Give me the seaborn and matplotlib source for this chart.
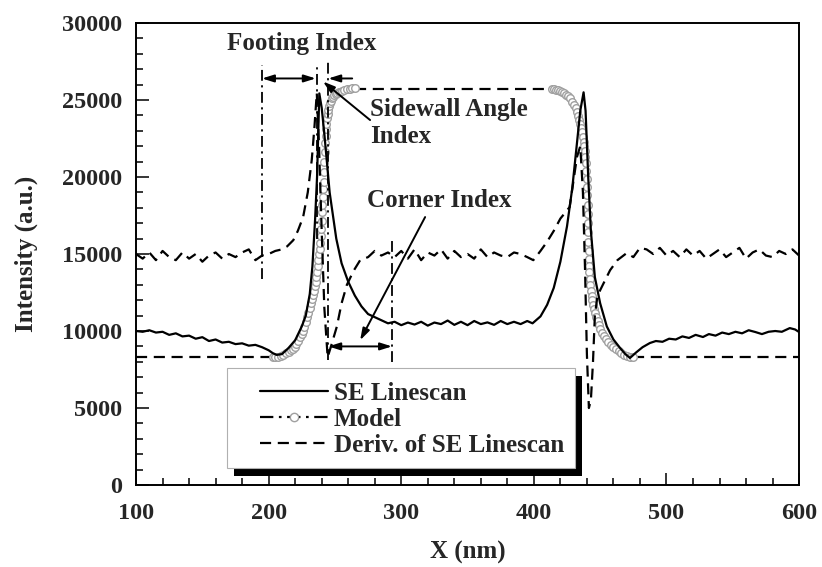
import matplotlib
matplotlib.use("Agg")
import matplotlib.pyplot as plt
from matplotlib.lines import Line2D
from matplotlib.patches import Rectangle
from matplotlib.ticker import MultipleLocator
import seaborn as sns

# SE linescan (solid)
se_x = [100, 105, 110, 115, 120, 125, 130, 135, 140, 145, 150, 155, 160, 165, 170, 175,
        180, 185, 190, 195, 200, 203, 206, 210, 215, 220, 225, 228, 231, 233, 235, 236.5,
        238.2, 240, 242, 243.8, 246, 248, 251, 255, 260, 265, 270, 275, 280, 285, 290, 295,
        300, 305, 310, 315, 320, 325, 330, 335, 340, 345, 350, 355, 360, 365, 370, 375,
        380, 385, 390, 395, 399, 405, 410, 415, 420, 425, 429, 432.5, 435, 437.5, 439,
        441, 443, 446, 450, 455, 460, 465, 469, 472.5, 477, 482, 487.5, 492, 497, 502,
        507, 512, 517, 522, 527.5, 532, 537, 542, 547, 552, 557, 562, 567, 572, 577,
        582, 587, 593, 597, 600]
se_y = [10000, 9950, 10050, 9900, 9950, 9750, 9850, 9650, 9700, 9500, 9600, 9350, 9450,
        9250, 9300, 9150, 9200, 9050, 9100, 8950, 8750, 8570, 8450, 8500, 8900, 9400,
        10300, 11000, 12400, 14200, 17200, 20000, 25430, 24500, 22800, 21100, 19000,
        17800, 16000, 14400, 13200, 12300, 11600, 11100, 10900, 10700, 10500, 10600,
        10380, 10550, 10420, 10600, 10350, 10550, 10450, 10680, 10400, 10600, 10380,
        10650, 10450, 10560, 10400, 10650, 10450, 10600, 10450, 10650, 10500, 10950,
        11700, 12800, 14500, 16800, 19300, 22200, 24300, 25500, 24300, 20000, 16500,
        13500, 11800, 10300, 9450, 8900, 8500, 8250, 8600, 8950, 9220, 9350, 9300, 9500,
        9450, 9650, 9550, 9750, 9610, 9800, 9700, 9900, 9800, 9950, 9850, 10050, 9935,
        9800, 9950, 10000, 9950, 10190, 10100, 9935]

# derivative of SE linescan (dashed)
dv_x = [100, 105, 110, 115, 120, 125, 130, 135, 140, 145, 150, 155, 160, 165, 170, 175,
        180, 185, 190, 195, 200, 205, 210, 214, 218.6, 222, 226, 229.5, 232.5, 234.5,
        236.3, 238, 240, 242, 244.5, 247, 251.4, 255, 259, 264, 269, 275, 280, 285, 290,
        295, 300, 305, 310, 315, 320, 325, 330, 335, 340, 345, 350, 355, 360, 365, 370,
        375, 380, 385, 390, 395, 399.6, 405, 410, 415, 420, 427, 432.5, 435, 437, 438.6,
        440, 441.5, 443, 444.6, 446, 448, 452, 457.5, 463, 470, 475, 480, 485, 490, 495,
        500, 505, 510, 515, 520, 525, 530, 535, 540, 545, 550, 555, 560, 565, 570, 575,
        580, 585, 590, 595, 600]
dv_y = [15000, 14700, 15100, 14600, 15200, 14800, 14600, 15100, 14700, 15000, 14500,
        14900, 15100, 14700, 15000, 14800, 15100, 15300, 14600, 14900, 15000, 15200,
        15300, 15500, 15900, 16500, 17400, 19000, 21100, 23200, 25450, 22000, 16500,
        11500, 8300, 9000, 10280, 11800, 13000, 13900, 14600, 14800, 15200, 14900, 15100,
        14800, 15200, 14700, 15300, 14600, 15100, 14900, 15300, 14700, 15200, 14800,
        15000, 14700, 15300, 14800, 15100, 14900, 14800, 15100, 15000, 14800, 14600,
        15200, 15800, 16500, 17300, 18050, 21300, 22000, 19000, 14000, 8500, 5000, 5500,
        8000, 11000, 12300, 13000, 13950, 14600, 15060, 14800, 15400, 15300, 15000, 15400,
        14900, 15200, 14800, 15300, 14900, 15200, 14700, 15000, 15300, 14800, 15100,
        15400, 14700, 15100, 15300, 14900, 14800, 15200, 15000, 15300, 14900]

# model: flat levels (dashed) and the two edge transitions (open circles)
md_bottom = 8300
md_top = 25720
md_flat_x = [(100, 203), (265, 414), (475, 600)]
md_flat_y = [md_bottom, md_top, md_bottom]
left_x = [203, 205, 207, 209, 211, 213, 215, 216.5, 218, 219.5, 221, 222.5, 224, 225,
          226, 227, 228, 229, 230, 231, 232, 233, 233.5, 234.3, 235, 235.5, 236, 236.5,
          237, 237.5, 238, 238.4, 238.8, 239.2, 239.5, 239.9, 240.2, 240.5, 240.8, 241.1,
          241.4, 241.7, 242, 242.3, 242.5, 242.9, 243.2, 243.6, 244, 244.4, 244.8, 245.4,
          246, 246.8, 247.5, 248.5, 249.5, 250.5, 251.5, 252.8, 254, 255.5, 257, 259, 261,
          263, 265]
left_y = [8300, 8310, 8330, 8380, 8450, 8540, 8650, 8750, 8850, 8990, 9150, 9360, 9600,
          9790, 10000, 10290, 10600, 10900, 11200, 11520, 11850, 12100, 12350, 12620,
          12900, 13200, 13500, 13850, 14200, 14600, 15000, 15350, 15700, 16150, 16600,
          17150, 17700, 18200, 18700, 19200, 19700, 20350, 21000, 21600, 22200, 22650,
          23100, 23450, 23800, 24100, 24350, 24600, 24800, 24950, 25100, 25200, 25300,
          25380, 25450, 25500, 25550, 25600, 25650, 25690, 25720, 25750, 25770]
right_x = [414, 415.5, 417, 418.5, 420, 421.5, 423, 424.5, 426, 427.5, 429, 430.3, 431.5,
           432.5, 433.5, 434.3, 435, 435.7, 436.3, 437, 437.5, 438, 438.5, 438.9, 439.2,
           439.5, 439.8, 440.1, 440.3, 440.5, 440.7, 440.9, 441, 441.2, 441.3, 441.5,
           441.6, 441.8, 442, 442.5, 443, 443.5, 444, 444.7, 445.5, 446.2, 447, 448, 449,
           450.2, 451.5, 453, 454.5, 456.2, 458, 460, 462, 464, 466, 468, 470, 472.5, 475]
right_y = [25720, 25700, 25680, 25640, 25600, 25530, 25450, 25350, 25250, 25100, 24900,
           24680, 24450, 24200, 23950, 23700, 23450, 23180, 22900, 22600, 22300, 22000,
           21700, 21300, 20900, 20400, 19900, 19350, 18800, 18200, 17600, 17000, 16400,
           15800, 15200, 14700, 14200, 13800, 13400, 13000, 12600, 12300, 12000, 11700,
           11400, 11150, 10900, 10650, 10400, 10150, 9900, 9670, 9450, 9270, 9100, 8950,
           8800, 8670, 8550, 8470, 8400, 8340, 8300]

# index guide lines and arrows
guide_x = [195, 236.3, 244.8, 293]
guide_top = [27300, 27400, 27500, 16000]
guide_bottom = [13400, 16000, 8100, 8000]

sns.set_style("ticks")
plt.rcParams["font.family"] = ["Liberation Serif", "DejaVu Serif"]
plt.rcParams["font.weight"] = "bold"
plt.rcParams["axes.labelweight"] = "bold"

fig = plt.figure(figsize=(8.22, 5.67), dpi=100)
ax = fig.add_axes([0.1655, 0.1446, 0.8066, 0.8148])

dash = (0, (5, 3))
dashdot = (0, (6, 2.5, 1.2, 2.5))

# model
for (a, b), lvl in zip(md_flat_x, md_flat_y):
    ax.plot([a, b], [lvl, lvl], color="black", lw=1.6, linestyle=dash, zorder=2)
sns.scatterplot(x=left_x + right_x, y=left_y + right_y, ax=ax, s=30,
                facecolor="white", edgecolor="#a0a0a0", linewidth=1.0,
                zorder=2.5, legend=False)

sns.lineplot(x=dv_x, y=dv_y, ax=ax, color="black", lw=1.6, linestyle=dash,
             sort=False, estimator=None, zorder=3)
sns.lineplot(x=se_x, y=se_y, ax=ax, color="black", lw=1.6,
             sort=False, estimator=None, zorder=3.5)

ax.vlines(guide_x, guide_bottom, guide_top, colors="black", lw=1.3,
          linestyles=[dashdot], zorder=3)

arrow = dict(arrowstyle="<|-|>,head_length=0.7,head_width=0.22", color="black",
             lw=1.4, shrinkA=0, shrinkB=0)
one_way = dict(arrowstyle="-|>,head_length=0.7,head_width=0.22", color="black",
               lw=1.4, shrinkA=0, shrinkB=0)
ax.annotate("", xy=(235.5, 26400), xytext=(195, 26400), arrowprops=arrow)
ax.annotate("", xy=(245, 26400), xytext=(263, 26400), arrowprops=one_way)
ax.annotate("", xy=(293, 9000), xytext=(245, 9000), arrowprops=arrow)
ax.annotate("", xy=(241, 26200), xytext=(276.5, 23700), arrowprops=one_way)
ax.annotate("", xy=(269, 9400), xytext=(318, 17400), arrowprops=one_way)

ax.text(225, 28650, "Footing Index", ha="center", va="center", fontsize=18,
        fontweight="bold")
ax.text(276.5, 23500, "Sidewall Angle\nIndex", ha="left", va="center", fontsize=18,
        fontweight="bold", linespacing=1.2)
ax.text(328.5, 18500, "Corner Index", ha="center", va="center", fontsize=18,
        fontweight="bold")

ax.set_xlim(100, 600)
ax.set_ylim(0, 30000)
ax.xaxis.set_major_locator(MultipleLocator(100))
ax.xaxis.set_minor_locator(MultipleLocator(20))
ax.yaxis.set_major_locator(MultipleLocator(5000))
ax.yaxis.set_minor_locator(MultipleLocator(1000))
ax.tick_params(which="both", direction="in", top=False, right=False, width=1.3,
               labelsize=17.5)
ax.tick_params(which="major", length=9)
ax.tick_params(which="minor", length=5)
ax.tick_params(axis="x", pad=13)
ax.tick_params(axis="y", pad=10)
for sp in ax.spines.values():
    sp.set_linewidth(1.4)
    sp.set_color("black")

ax.set_xlabel("X (nm)", fontsize=18, labelpad=12)
ax.set_ylabel("Intensity (a.u.)", fontsize=18, labelpad=17)

# legend: boxed frame with a solid black drop shadow
frame_x0, frame_y0, frame_x1, frame_y1 = 0.137, 0.037, 0.662, 0.253
sh_dx, sh_dy = 7 / 663, 8 / 462
ax.add_patch(Rectangle((frame_x0 + sh_dx, frame_y0 - sh_dy), frame_x1 - frame_x0,
                       frame_y1 - frame_y0, transform=ax.transAxes,
                       facecolor="black", edgecolor="none", zorder=5))
ax.add_patch(Rectangle((frame_x0, frame_y0), frame_x1 - frame_x0, frame_y1 - frame_y0,
                       transform=ax.transAxes, facecolor="white", edgecolor="#b0b0b0",
                       lw=0.8, zorder=5.2))

handles = [
    Line2D([], [], color="black", lw=1.6),
    Line2D([], [], color="black", lw=1.6, linestyle=dashdot, marker="o",
           markersize=6, markerfacecolor="white", markeredgecolor="#a0a0a0"),
    Line2D([], [], color="black", lw=1.6, linestyle=dash),
]
labels = ["SE Linescan", "Model", "Deriv. of SE Linescan"]
leg = ax.legend(handles, labels, loc="upper left", bbox_to_anchor=(0.187, 0.224),
                borderaxespad=0, borderpad=0, fontsize=18, frameon=False,
                handlelength=2.7, handletextpad=0.25, labelspacing=0.12, numpoints=1)
leg.set_zorder(6)

fig.savefig("out.png", dpi=100)
